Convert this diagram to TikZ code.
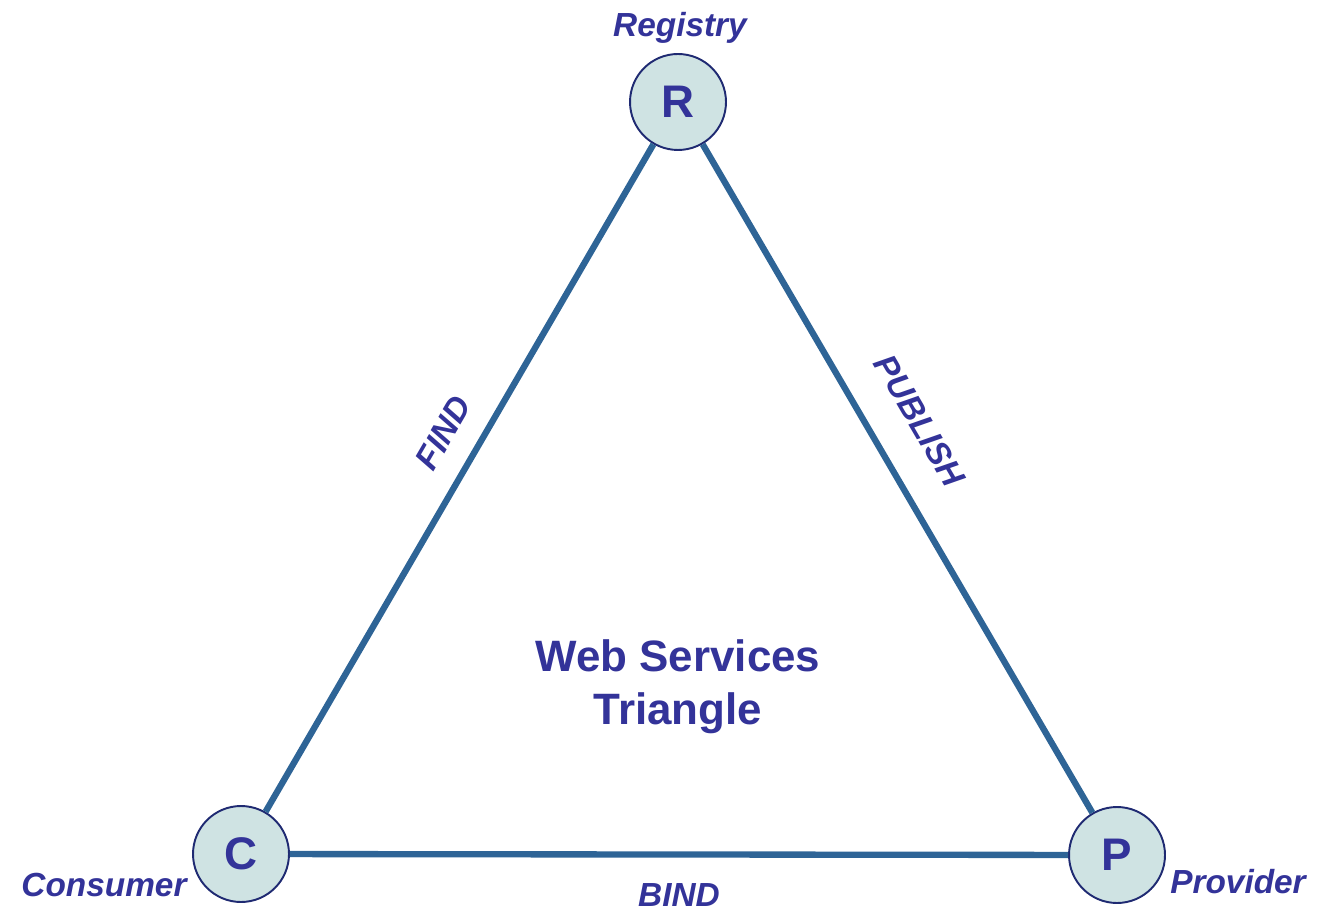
\documentclass[tikz,border=0pt]{standalone}
\usepackage{fontspec}
\setmainfont{Liberation Sans}
\usepackage{xcolor}
\definecolor{wsline}{HTML}{2E6496}
\definecolor{wstext}{HTML}{333399}
\definecolor{wsfill}{HTML}{CFE3E3}
\definecolor{wsedge}{HTML}{1F2A72}
\tikzset{
  role/.style={circle,draw=wsedge,line width=1.1pt,fill=wsfill,minimum size=1.92cm,inner sep=0pt,
    text=wstext,font=\fontsize{26}{28}\selectfont\bfseries},
  rolename/.style={text=wstext,font=\fontsize{19}{21}\selectfont\bfseries\itshape},
  link/.style={draw=wsline,line width=3.6pt},
  linkname/.style={text=wstext,font=\fontsize{19}{21}\selectfont\bfseries\itshape}
}

\begin{document}
\begin{tikzpicture}[x=0.02cm,y=-0.02cm]
        \useasboundingbox (0,0) rectangle (1317,911);
        \node[role] (R) at (678,102) {R};
        \node[role] (C) at (241,854) {C};
        \node[role] (P) at (1117,855) {P};
        \node[rolename] (reg) at (680,28) {Registry};
        \node[rolename] (con) at (104,885) {Consumer};
        \node[rolename] (pro) at (1238,882) {Provider};
        \draw[link] (C)--(R) node[pos=0.54,sloped,above=0.32cm,linkname]{FIND};
        \draw[link] (R)--(P) node[pos=0.45,sloped,above=0.55cm,linkname]{PUBLISH};
        \draw[link] (C)--(P) node[midway,below=0.4cm,linkname]{BIND};
        \node[text=wstext,font=\fontsize{25}{30}\selectfont\bfseries,align=center] (title) at (678,687) {Web Services\\Triangle};
    \end{tikzpicture}
\end{document}
